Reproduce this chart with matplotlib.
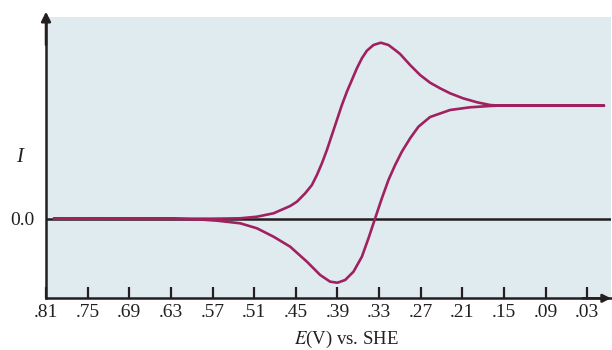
import matplotlib
matplotlib.use("Agg")
import matplotlib.pyplot as plt

# Forward (upper) branch: potential (V vs SHE) and current (arb. units)
E_upper = [0.80, 0.6294, 0.5689, 0.5301, 0.5060, 0.4821, 0.4581, 0.4484, 0.4365,
           0.4268, 0.4196, 0.4124, 0.4052, 0.3980, 0.3908, 0.3836, 0.3764, 0.3692,
           0.3620, 0.3548, 0.3476, 0.3381, 0.3275, 0.3165, 0.3069, 0.2997, 0.2853,
           0.2709, 0.2565, 0.2421, 0.2277, 0.2090, 0.1888, 0.1701, 0.1600, 0.1268,
           0.0059]
I_upper = [0.0, 0.0, 0.0, 0.004, 0.02, 0.054, 0.127, 0.17, 0.254,
           0.337, 0.437, 0.554, 0.687, 0.837, 0.987, 1.137, 1.27, 1.387,
           1.504, 1.604, 1.68, 1.737, 1.76, 1.737, 1.687, 1.647, 1.537,
           1.437, 1.36, 1.304, 1.254, 1.204, 1.164, 1.137, 1.132, 1.13,
           1.13]

# Reverse (lower) branch
E_lower = [0.0059, 0.1600, 0.1701, 0.1989, 0.2277, 0.2565, 0.2733, 0.2853, 0.2972,
           0.3069, 0.3165, 0.3260, 0.3357, 0.3453, 0.3548, 0.3669, 0.3789, 0.3900,
           0.4005, 0.4149, 0.4340, 0.4581, 0.4821, 0.5060, 0.5301, 0.5632, 0.5877,
           0.6294, 0.80]
I_lower = [1.13, 1.13, 1.127, 1.114, 1.087, 1.017, 0.92, 0.804, 0.67,
           0.537, 0.387, 0.204, 0.004, -0.196, -0.38, -0.53, -0.613, -0.64,
           -0.63, -0.563, -0.43, -0.28, -0.18, -0.096, -0.046, -0.02, -0.008,
           -0.002, 0.0]

tick_vals = [0.81, 0.75, 0.69, 0.63, 0.57, 0.51, 0.45, 0.39, 0.33, 0.27, 0.21, 0.15, 0.09, 0.03]
tick_labels = [".81", ".75", ".69", ".63", ".57", ".51", ".45", ".39", ".33", ".27", ".21", ".15", ".09", ".03"]

W, H = 612, 350
fig = plt.figure(figsize=(W / 100, H / 100), dpi=100)
ax = fig.add_axes([46 / W, (H - 298.3) / H, (611 - 46) / W, (298.3 - 16.7) / H])
ax.set_facecolor("#e0ebf0")

ax.set_xlim(0.81, -0.0042)
ax.set_ylim(-0.796, 2.02)

curve_col = "#a0215f"
ink = "#231f20"
ax.axhline(0, color=ink, lw=1.8, zorder=2)
E_all = E_upper + E_lower
I_all = I_upper + I_lower
ax.plot(E_all, I_all, color=curve_col, lw=1.9, zorder=3,
        solid_joinstyle="round", solid_capstyle="butt", antialiased=True)

for s in ["top", "right"]:
    ax.spines[s].set_visible(False)
for s in ["left", "bottom"]:
    ax.spines[s].set_color(ink)
    ax.spines[s].set_linewidth(1.8)

serif = ["Liberation Serif", "DejaVu Serif"]
ax.set_xticks(tick_vals)
ax.set_xticklabels(tick_labels, family=serif, fontsize=14, color=ink)
ax.tick_params(axis="x", direction="in", length=8, width=1.6, color=ink, pad=4)
ax.set_yticks([0.0])
ax.set_yticklabels(["0.0"], family=serif, fontsize=14, color=ink)
ax.tick_params(axis="y", direction="in", length=0, pad=8)

# arrows at ends of axes
ax.annotate("", xy=(0, 1 + 5 / 281.6), xytext=(0, 0.9), xycoords="axes fraction",
            arrowprops=dict(arrowstyle="-|>", color=ink, lw=1.8, mutation_scale=14,
                            shrinkA=0, shrinkB=0), annotation_clip=False)
ax.annotate("", xy=(1.0, 0), xytext=(0.95, 0), xycoords="axes fraction",
            arrowprops=dict(arrowstyle="-|>", color=ink, lw=1.8, mutation_scale=12,
                            shrinkA=0, shrinkB=0), annotation_clip=False)

fig.text(346 / W, 1 - 339 / H, r"$\it{E}$(V) vs. SHE", family=serif, fontsize=13.5,
         color=ink, ha="center", va="center", math_fontfamily="stix")
fig.text(20 / W, 1 - 157 / H, "I", family=serif, style="italic", fontsize=15,
         color=ink, ha="center", va="center")

fig.savefig("out.png", dpi=100)
